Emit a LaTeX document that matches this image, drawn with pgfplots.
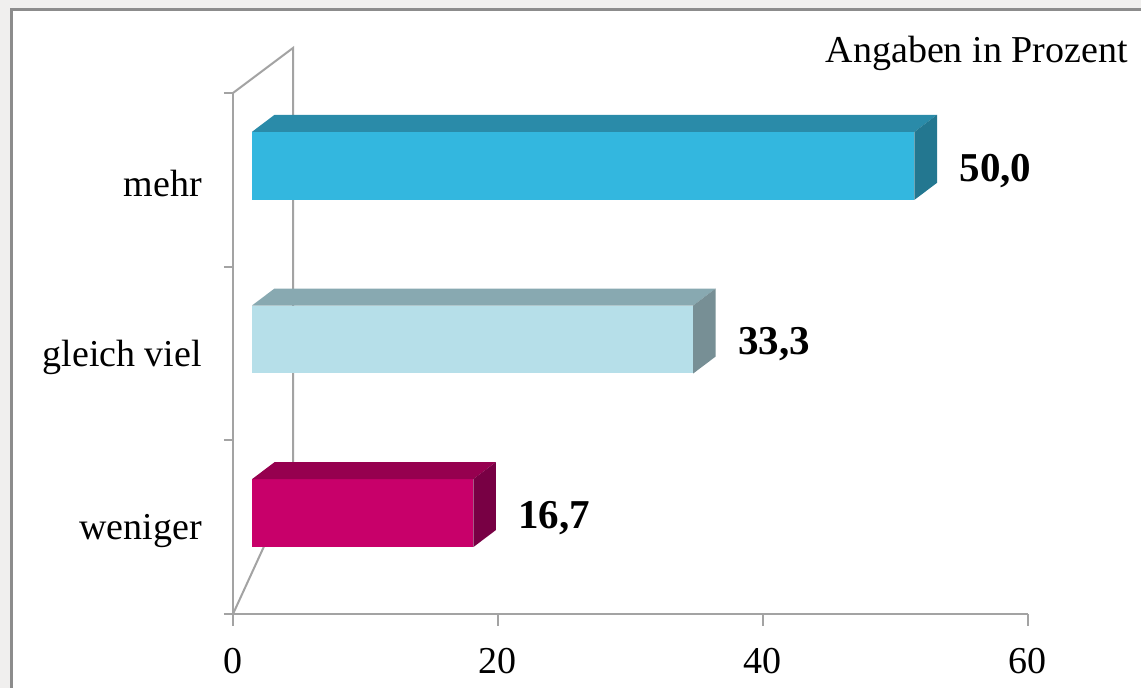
\documentclass[border=0pt]{standalone}
\usepackage{pgfplots}
\pgfplotsset{compat=1.18}
\usepackage{pgfplotstable}
\usepackage{fontspec}
\setmainfont{Liberation Serif}

% answers, bottom to top
\pgfplotstableread{
idx value
0 16.7
1 33.3
2 50.0
}\datatable

\definecolor{bggray}{HTML}{F0EFEE}
\definecolor{framegray}{HTML}{8C8C8C}
\definecolor{axisgray}{HTML}{A3A3A3}
\definecolor{front0}{HTML}{C8006A}
\definecolor{top0}{HTML}{96004F}
\definecolor{side0}{HTML}{780044}
\definecolor{front1}{HTML}{B6DFE9}
\definecolor{top1}{HTML}{88A9B1}
\definecolor{side1}{HTML}{778F95}
\definecolor{front2}{HTML}{33B7DF}
\definecolor{top2}{HTML}{2A8BA9}
\definecolor{side2}{HTML}{237790}

% depth of the bars in data units
\newcommand\dfx{1.434}  % front face offset, x
\newcommand\dfy{0.0806} % front face offset, y
\newcommand\dbx{1.70}   % bar depth, x
\newcommand\dby{0.0979} % bar depth, y
\newcommand\hw{0.1957}  % half bar height

\newcommand\lblfont{\fontsize{19}{23}\selectfont}

\begin{document}
\begin{tikzpicture}
\useasboundingbox (0,0) rectangle (570.5pt,344pt);
\clip (0,0) rectangle (570.5pt,344pt);
\begin{scope}[x=0.5pt,y=0.5pt]
  \fill[bggray] (0,0) rectangle (1141,688);
  \fill[white] (11.5,-10) rectangle (1160,678.5);
  \draw[framegray, line width=1.5pt] (11.5,-10) -- (11.5,678.5) -- (1160,678.5);
\end{scope}

\begin{axis}[
  at={(116.5pt,37pt)}, anchor=south west,
  scale only axis, width=397.5pt, height=260.5pt,
  xmin=0, xmax=60, ymin=-0.5, ymax=2.5,
  clip=false,
  axis lines=left,
  axis line style={-, draw=axisgray, line width=1pt},
  tick align=outside,
  tick style={draw=axisgray, line width=1pt},
  xtick={0,20,40,60},
  xtick style={/pgfplots/major tick length=6pt},
  xticklabel style={yshift=-9.5pt},
  ytick={-0.5,0.5,1.5,2.5},
  yticklabels={},
  ytick style={/pgfplots/major tick length=4.5pt},
  extra y ticks={0,1,2},
  extra y tick labels={weniger,gleich viel,mehr},
  extra y tick style={/pgfplots/major tick length=0pt,
    tick style={draw=none},
    yticklabel style={xshift=-12pt, yshift=-2pt}},
  minor tick num=0,
  ticklabel style={font=\lblfont, text=black},
  /pgf/number format/assume math mode=true,
]

% back wall of the 3D frame
\draw[axisgray, line width=1pt] (axis cs:0,2.5) -- ++(30pt,22.5pt)
  -- ++(0,-261pt) -- (axis cs:0,-0.5);

% bars: front, top and side faces
\pgfplotsinvokeforeach{0,1,2}{
  \pgfplotstablegetelem{#1}{value}\of\datatable
  \pgfmathsetmacro\xa{\dfx}
  \pgfmathsetmacro\xb{\pgfplotsretval+\dfx}
  \pgfmathsetmacro\xc{\xa+\dbx}
  \pgfmathsetmacro\xd{\xb+\dbx}
  \pgfmathsetmacro\ya{#1+\dfy-\hw}
  \pgfmathsetmacro\yb{#1+\dfy+\hw}
  \pgfmathsetmacro\yc{\ya+\dby}
  \pgfmathsetmacro\yd{\yb+\dby}
  \edef\barfaces{%
    \noexpand\addplot[fill=front#1, draw=none] coordinates {(\xa,\ya) (\xb,\ya) (\xb,\yb) (\xa,\yb)};
    \noexpand\addplot[fill=top#1, draw=none] coordinates {(\xa,\yb) (\xb,\yb) (\xd,\yd) (\xc,\yd)};
    \noexpand\addplot[fill=side#1, draw=none] coordinates {(\xb,\ya) (\xd,\yc) (\xd,\yd) (\xb,\yb)};
  }\barfaces
}

% value labels
\addplot[only marks, mark=none, point meta=explicit,
  nodes near coords={\pgfmathprintnumber[fixed, fixed zerofill, precision=1,
    use comma, assume math mode=true]{\pgfplotspointmeta}},
  nodes near coords style={anchor=west, xshift=19pt, yshift=-2.5pt,
    font=\fontsize{20.5}{24}\selectfont\bfseries, text=black}]
  table[x expr=\thisrow{value}+\dfx, y expr=\thisrow{idx}+\dfy, meta=value]
  {\datatable};
\end{axis}

\node[anchor=base east, font=\lblfont, inner sep=0pt] at (564pt,312.5pt)
  {Angaben in Prozent};
\end{tikzpicture}
\end{document}
